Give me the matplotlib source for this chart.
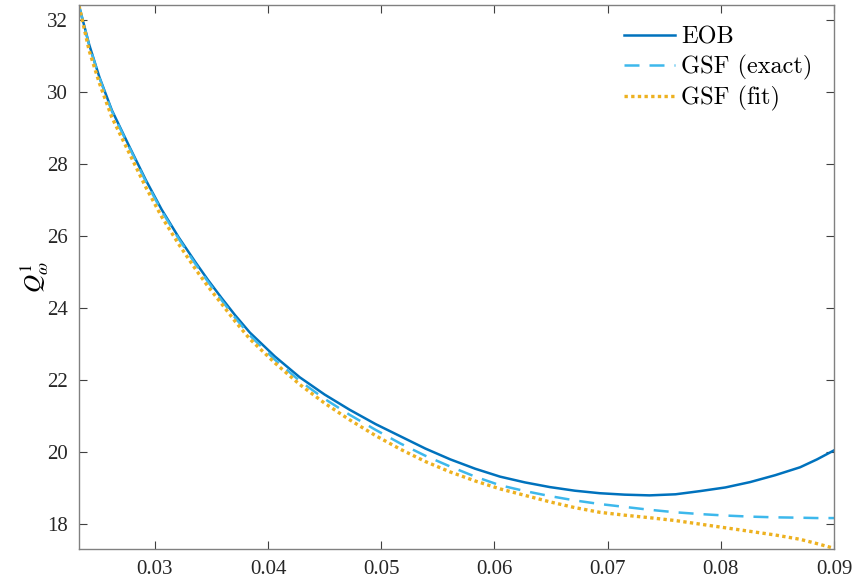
import matplotlib
matplotlib.use("Agg")
import matplotlib.pyplot as plt

# values
x = [0.0233, 0.0242, 0.0251, 0.0262, 0.0277, 0.0292, 0.0306, 0.0321, 0.0336,
     0.0347, 0.0359, 0.0371, 0.0384, 0.0406, 0.0428, 0.0450, 0.0472, 0.0495,
     0.0517, 0.0539, 0.0561, 0.0583, 0.0605, 0.0627, 0.0649, 0.0671, 0.0693,
     0.0715, 0.0737, 0.0760, 0.0782, 0.0804, 0.0826, 0.0848, 0.0870, 0.0885,
     0.0900]
eob = [32.40, 31.32, 30.42, 29.50, 28.52, 27.56, 26.74, 25.97, 25.27,
       24.78, 24.28, 23.80, 23.32, 22.66, 22.08, 21.60, 21.18, 20.78,
       20.44, 20.10, 19.80, 19.54, 19.32, 19.16, 19.03, 18.93, 18.86,
       18.82, 18.80, 18.83, 18.92, 19.02, 19.17, 19.36, 19.58, 19.80,
       20.05]
gsf_exact = [32.40, 31.30, 30.40, 29.47, 28.49, 27.52, 26.70, 25.93, 25.22,
             24.73, 24.22, 23.73, 23.24, 22.57, 21.98, 21.48, 21.04, 20.62,
             20.24, 19.90, 19.60, 19.32, 19.08, 18.92, 18.78, 18.66, 18.56,
             18.48, 18.40, 18.33, 18.28, 18.24, 18.21, 18.19, 18.18, 18.17,
             18.17]
gsf_fit = [32.40, 31.15, 30.25, 29.30, 28.33, 27.36, 26.54, 25.78, 25.08,
           24.60, 24.12, 23.63, 23.14, 22.48, 21.88, 21.36, 20.90, 20.46,
           20.08, 19.74, 19.45, 19.20, 18.98, 18.80, 18.62, 18.46, 18.33,
           18.25, 18.18, 18.10, 18.00, 17.90, 17.80, 17.70, 17.58, 17.46,
           17.33]
xticks = [0.03, 0.04, 0.05, 0.06, 0.07, 0.08, 0.09]
yticks = [18, 20, 22, 24, 26, 28, 30, 32]

plt.rcParams['mathtext.fontset'] = 'stix'

fig = plt.figure(figsize=(8.54, 5.87), dpi=100)
ax = fig.add_axes([0.0925, 0.0647, 0.8841, 0.9268])

ax.plot(x, eob, color='#0072BD', lw=1.8, label='EOB')
ax.plot(x, gsf_exact, color='#3DB8EC', lw=1.8, ls=(0, (6, 4)), label='GSF (exact)')
ax.plot(x, gsf_fit, color='#EDB120', lw=2.4, ls=(0, (1, 1)), label='GSF (fit)')

ax.set_xlim(0.0233, 0.09)
ax.set_ylim(17.31, 32.42)
ax.set_xticks(xticks)
ax.set_xticklabels(['%.2f' % v for v in xticks])
ax.set_yticks(yticks)

for s in ax.spines.values():
    s.set_color('#808080')
    s.set_linewidth(1.0)
ax.tick_params(direction='in', length=6, width=0.8, color='#404040',
               top=True, right=True, labelsize=15, pad=8,
               labelcolor='#262626')
for lab in ax.get_xticklabels() + ax.get_yticklabels():
    lab.set_family('Liberation Serif')

ax.set_ylabel(r'$Q^1_\omega$', fontsize=18, labelpad=-2)

leg = ax.legend(loc='upper right', frameon=False,
                prop={'family': 'cmr10', 'size': 17.5},
                handlelength=2.1, handletextpad=0.25, labelspacing=0.25,
                borderaxespad=0.5)

fig.savefig('out.png', dpi=100)
